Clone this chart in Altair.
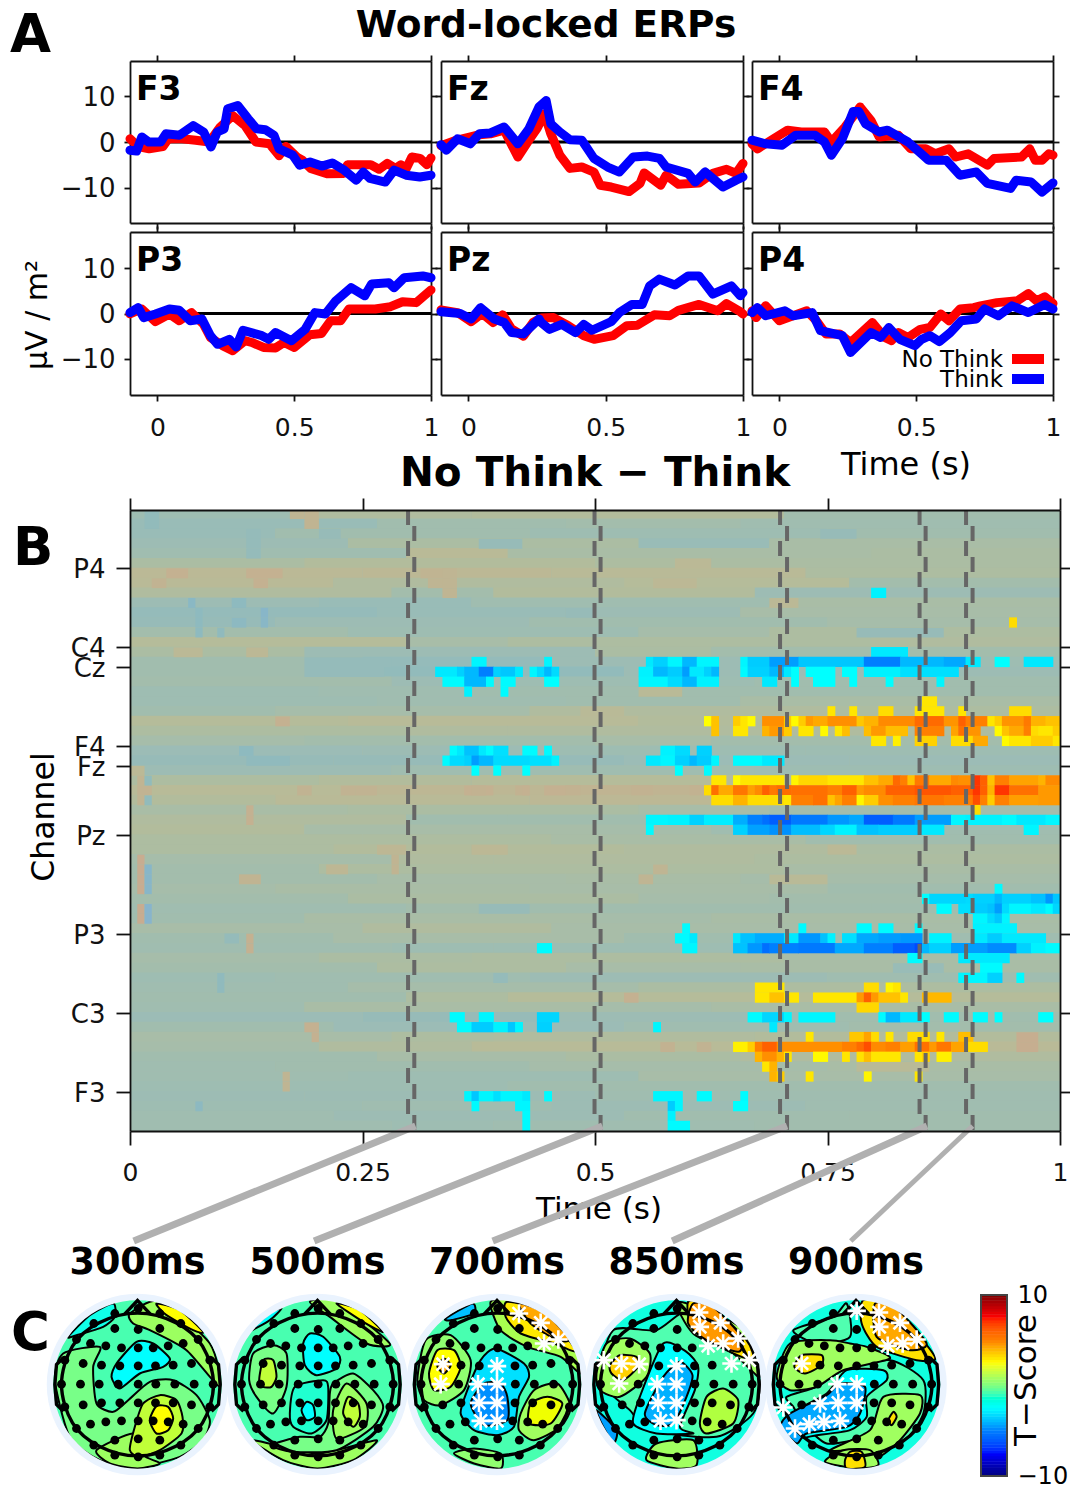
import altair as alt
import pandas as pd
import numpy as np

W, H = 1062, 1478
FONT = "DejaVu Sans"
INK = "#111111"

# ---------- ERP traces (time s, µV/m²) ----------
ERP = {
 "F3": {
  "red": [(-.1,.7),(-.07,-1),(-.03,-1.5),(.02,-1),(.04,.7),(.09,.7),(.14,.4),(.19,0),(.23,3.3),(.275,5.8),(.32,3.6),(.36,0),(.41,-.4),(.445,-3),(.47,-1),(.51,-3.3),(.53,-4),(.56,-5.8),(.62,-7),(.68,-6.9),(.695,-5),(.78,-5),(.81,-6),(.84,-4.7),(.87,-5.8),(.89,-5),(.91,-5.8),(.93,-3.3),(.96,-3.6),(.985,-5),(1,-3.5)],
  "blue": [(-.1,-1.8),(-.076,-2),(-.057,1.1),(-.032,0),(.012,0),(.031,1.8),(.081,1.5),(.131,3.6),(.169,2.2),(.196,-1.1),(.219,2.2),(.244,2.9),(.257,7.3),(.294,8),(.332,5.1),(.363,2.9),(.395,2.7),(.426,1.5),(.445,-1.5),(.495,-2.9),(.52,-5.1),(.558,-4.4),(.601,-5.3),(.639,-4.6),(.683,-6.2),(.727,-8.4),(.752,-6.6),(.777,-8),(.833,-8.8),(.865,-6.2),(.909,-7.3),(.959,-7.7),(1,-7.3)],
 },
 "Fz": {
  "red": [(-.1,-.8),(-.05,.3),(0,1),(.04,1.6),(.08,1.8),(.13,2.6),(.18,-3.3),(.22,.4),(.25,3),(.277,6.2),(.30,1.8),(.333,-2.9),(.37,-5.8),(.413,-5.5),(.457,-6.6),(.48,-9.5),(.52,-9.9),(.585,-10.9),(.625,-9.1),(.64,-6.8),(.70,-9.5),(.72,-7.3),(.765,-9.3),(.84,-9),(.89,-6.9),(.94,-6),(.975,-6.9),(1,-4.7)],
  "blue": [(-.1,-.6),(-.08,-1.8),(-.04,.7),(.007,-.4),(.04,1.8),(.08,2),(.13,3.3),(.18,-.4),(.22,2.9),(.257,7.7),(.283,9.1),(.30,4),(.333,2.2),(.37,.5),(.413,.4),(.457,-3.6),(.507,-5.5),(.55,-6.6),(.60,-3.3),(.652,-3.1),(.696,-3.6),(.72,-5.5),(.80,-6.9),(.826,-8.8),(.862,-6.6),(.927,-9.9),(.975,-8.4),(1,-7.7)],
 },
 "F4": {
  "red": [(-.1,-.4),(-.08,-1.5),(-.03,.4),(.03,2.6),(.08,2.2),(.165,2.2),(.19,0),(.24,3.3),(.295,7.7),(.335,4.7),(.365,1.1),(.435,1.5),(.48,-1.5),(.535,-1.5),(.57,-2.6),(.62,-1.5),(.645,-3.3),(.69,-2.6),(.76,-5.1),(.785,-3.6),(.885,-3.3),(.915,-1.5),(.935,-4),(.96,-4),(.985,-2.6),(1,-2.9)],
  "blue": [(-.1,.4),(-.05,-.4),(.01,-.7),(.06,1.5),(.13,1.5),(.165,0),(.19,-2.9),(.23,.7),(.27,6.7),(.29,6.7),(.315,4),(.365,2.2),(.395,2.6),(.47,0),(.545,-4),(.61,-4),(.66,-7.3),(.72,-6.6),(.76,-9.1),(.845,-10.2),(.865,-8.4),(.92,-8.8),(.96,-11),(1,-9)],
 },
 "P3": {
  "red": [(-.1,-.1),(-.057,1),(-.007,-1.8),(.044,-.1),(.08,-1.6),(.125,.2),(.169,-2.4),(.194,-5.3),(.238,-7.1),(.275,-8.2),(.32,-6),(.345,-6.4),(.388,-7.5),(.432,-7.6),(.463,-6.4),(.5,-7.5),(.557,-4.7),(.6,-4.4),(.633,-1.6),(.67,-1.6),(.70,1),(.796,1),(.852,1.5),(.896,2.6),(.946,2.4),(1,5.2)],
  "blue": [(-.1,.2),(-.07,1.3),(-.05,-.9),(-.007,-.1),(.044,1),(.08,.7),(.12,-1.6),(.163,-1.2),(.194,-4.9),(.22,-6.8),(.263,-5.7),(.288,-7.4),(.313,-3.7),(.382,-4.9),(.407,-5.7),(.432,-4.2),(.49,-6),(.54,-3.5),(.576,.2),(.614,-.1),(.652,2.8),(.708,5.7),(.758,3.9),(.783,6.5),(.846,6.8),(.865,5.7),(.902,7.9),(.97,8.3),(1,7.9)],
 },
 "Pz": {
  "red": [(-.1,.8),(-.04,.2),(.01,-1.8),(.05,0),(.09,-2),(.125,-.3),(.157,-3.4),(.2,-5),(.235,-2),(.265,-1),(.31,-.9),(.364,-2.7),(.42,-4.9),(.458,-5.7),(.527,-4.9),(.577,-2.7),(.615,-2.6),(.677,-.3),(.733,-.5),(.765,.7),(.84,2),(.908,.6),(.94,2.2),(.99,.4),(1,-.1)],
  "blue": [(-.1,.4),(-.03,0),(.01,-1.2),(.044,1.3),(.094,-1.2),(.13,-2),(.157,-4.2),(.2,-4.5),(.257,-1.2),(.265,-2),(.295,-3.5),(.34,-2.4),(.39,-4.2),(.42,-2.4),(.45,-3.7),(.52,-1.8),(.55,.2),(.595,2),(.633,2),(.66,6.1),(.695,7.6),(.752,6.3),(.80,8.3),(.84,8.3),(.89,4.3),(.958,6.1),(.99,3.9),(1,4.6)],
 },
 "P4": {
  "red": [(-.1,.6),(-.085,-.9),(-.05,1.7),(0,-1.6),(.1,.6),(.135,-1.6),(.17,-4.5),(.22,-4.5),(.26,-6.4),(.295,-4.5),(.34,-2),(.385,-5.3),(.41,-6),(.435,-4.2),(.47,-5.3),(.515,-3.5),(.55,-3.1),(.59,-.1),(.62,-1.6),(.66,1),(.71,1.3),(.735,1.7),(.795,2.4),(.87,2.8),(.91,4.4),(.94,2.8),(.97,3.7),(1,2.2)],
  "blue": [(-.1,.2),(-.08,1.3),(-.05,-.5),(.02,.6),(.05,-.5),(.12,.2),(.15,-3.8),(.23,-4.9),(.26,-8.6),(.335,-4.2),(.37,-5.3),(.40,-3.1),(.44,-5.7),(.495,-7.1),(.52,-5.7),(.55,-4.9),(.585,-6.2),(.625,-4.2),(.665,-1.6),(.72,-1.2),(.75,1),(.80,-.5),(.85,1.7),(.91,.2),(.97,2),(1,1)],
 },
}
PANELS = [
 ("F3",130,431,61,223,True,False),("Fz",441,743,61,223,False,False),("F4",752,1053,61,223,False,False),
 ("P3",130,431,232,395,True,True),("Pz",441,743,232,395,False,True),("P4",752,1053,232,395,False,True),
]

# ---------- heat map ----------
ROW_H = 9.87
N_TOP = (1131-510)/ROW_H
CHANNEL_ROWS = {"P4":57,"C4":49,"Cz":47,"F4":39,"Fz":37,"Pz":30,"P3":20,"C3":12,"F3":4}
BG = [[-.5,.4,.5,-.3],[-.8,-.3,-.2,-.4],[-.8,-.3,-.5,-.3],[-.6,.2,-.8,.1],[-.4,.8,.1,.2],[.2,.5,.3,.2],[.9,1.0,.8,.3],[.8,.4,.6,-.2],
[.4,-.2,.5,-.6],[-.6,-.8,-.4,.1],[-1,-.8,-.6,0],[-.9,-.6,-.3,-.1],[-.2,-.5,-.1,.3],[.6,0,.3,.4],[.2,-.6,.2,-.2],[-.3,-1,-.6,-.5],
[-.3,-1.1,-.6,-.6],[-.2,-.6,-.5,-.3],[-.5,-.4,-.3,-.3],[-.5,-.4,-.3,.1],[-.3,-.1,.4,.3],[.6,.7,.5,.5],[.3,.4,.4,.3],[-.1,-.2,0,-.2],
[-.7,-.6,-.5,-.5],[-.9,-.9,-.7,-.7],[-.6,-.4,-.4,-.5],[.3,.5,.6,.5],[.7,1.1,1.3,1.2],[.5,.8,1.0,1],[.1,.2,0,-.2],[.4,-.3,-.3,-.2],
[.5,0,-.1,-.4],[.3,.3,.1,-.3],[.3,.5,.4,.2],[-.1,.4,.4,.3],[-.2,.3,.3,.1],[-.2,0,.1,-.1],[-.1,.1,0,-.3],[-.2,.2,-.1,-.2],
[-.4,-.2,-.3,-.3],[-.3,.1,-.1,.1],[0,.4,0,0],[-.3,0,-.3,-.4],[-.4,-.5,-.5,-.2],[-.1,.2,.3,.1],[-.2,.3,0,.1],[-.5,-.4,-.6,-.4],
[-.4,-.1,.2,.3],[-.3,.3,.6,.6],[-.4,.1,-.1,.1],[-.7,-.9,-.6,-.3],[-.3,-.7,-.4,-.2],[0,.3,.4,.5],[-.1,.4,.7,.8],[-.3,0,.2,.4],
[-.4,-.3,-.1,.1],[-.4,-.5,0,0],[-.5,-.5,-.3,-.3],[-.6,-.6,-.4,-.4],[-.5,-.4,-.6,-.4],[-.4,-.6,-.3,-.3],[-.4,-.5,-.4,-.3]]
SEG_EDGES = [(26,47,90),(34,60,84),(20,55,96),(30,70,88),(38,52,102),(24,64,80),(32,58,93),(28,68,99),(36,50,86)]
BG_PATCHES = [(56,5,8,1.6),(56,16,21,1.6),(55,3,5,1.4),(55,17,19,1.6),(34,1,3,1.4),(34,69,72,1.5),(34,77,80,1.5),(34,53,55,1.5),(34,60,62,1.5),
 (34,46,50,1.6),(34,29,31,1.4),(56,40,44,1.3),(55,41,44,1.2),(21,1,2,2),(22,1,2,2),(21,2,3,-2),(22,2,3,-2),(25,15,18,1.3),(62,22,24,1.2),
 (53,8,9,-1.6),(53,14,16,-1.3),(52,18,19,-1.8),(47,24,36,-1),(38,15,17,-1.3),(37,16,22,-1.2),(8,73,75,1.5),(8,78,80,1.4),(8,122,125,1.8),(9,122,125,1.8),
 (10,24,26,1.6),(13,68,70,1.6),(19,13,15,-1),(36,0,2,.9),(25,70,72,1.2),(26,72,74,1.2),(28,34,38,1.1),
 (61,24,26,1.3),(62,24,26,1.3),(61,2,4,-1.1),(62,2,4,-1.1),(58,16,18,-1),(59,16,18,-1),(60,16,18,-1),(60,26,29,-.9),
 (50,9,10,-1.3),(51,9,10,-1.3),(52,9,10,-1.3),(51,14,16,-1.4),(51,18,19,-1.7),(50,12,13,-1.2),(48,6,10,.9),(48,16,19,1),(41,20,22,1.6),
 (54,43,45,1.2),(55,43,45,1.2),(56,43,45,1.2),(46,24,35,-1),(34,23,25,1.4),(34,31,34,1.4),(34,47,49,1.5),(34,54,55,1.6),(34,57,60,1.6),
 (33,1,2,1.3),(35,1,2,1.3),(33,2,3,-1.1),(35,2,3,-1.1),(59,48,54,-.9),(24,1,2,2),(25,1,2,2),(26,1,2,2),(27,1,2,2),
 (24,2,3,-1.8),(25,2,3,-1.8),(26,2,3,-1.8),(31,16,17,1.6),(32,16,17,1.6),(18,16,17,1.6),(19,16,17,1.6),(26,36,37,1.3),(27,36,37,1.3),(26,27,30,1.1),
 (28,47,52,1),(9,25,26,1.6),(14,12,13,-1.2),(15,12,13,-1.2),(15,50,52,-1),(22,48,55,-.9),(4,21,22,1.2),(5,21,22,1.2),(2,9,10,-1.4),
 (44,70,76,.8),(52,60,64,-.9),(53,88,92,.9),(57,75,80,.9),(55,72,78,1),(60,95,100,-.9),(50,100,112,-.9),(28,96,100,.9),(6,100,110,.8),(25,88,96,.8),(42,62,68,.8),(16,105,112,-.8)]
SIG_RUNS = {
54:[(102,104,-2.8)],51:[(121,122,3.2)],
48:[(102,107,-3)],
47:[(47,49,-2.7),(57,58,-2.7),(71,72,-3),(72,74,-3.5),(74,76,-2.7),(76,78,-4),(78,81,-2.7),(84,85,-2.7),(85,88,-3.6),(88,92,-4.5),(92,101,-3.7),(101,106,-5),(106,112,-4),(112,115,-4.3),(115,117,-3),(119,121,-2.5),(123,127,-3)],
46:[(42,45,-3),(45,46,-3.5),(46,48,-4),(48,50,-5),(50,51,-3.5),(51,53,-3.7),(53,54,-3),(55,56,-2.7),(56,57,-3.3),(57,58,-4),(58,59,-3.3),(70,72,-2.8),(72,74,-4),(74,76,-3.6),(76,77,-4.5),(77,79,-3),(79,80,-3.5),(80,81,-4),(84,85,-2.6),(85,88,-3.5),(88,90,-4),(90,91,-3),(91,92,-2.5),(93,97,-2.5),(98,100,-2.5),(101,106,-2.8),(106,114,-3.2)],
45:[(43,46,-2.6),(46,49,-4),(49,50,-2.6),(51,53,-2.6),(57,59,-2.5),(70,74,-2.7),(74,76,-3.3),(76,78,-4),(78,81,-2.8),(87,89,-3),(91,92,-2.5),(94,97,-2.5),(99,100,-2.5),(104,105,-2.5),(111,112,-2.7)],
44:[(46,47,-2.8),(51,52,-2.6)],
43:[(109,111,3)],
42:[(96,97,3),(99,100,3),(103,105,3.2),(108,112,3),(114,115,3),(121,124,3.2)],
41:[(79,80,2.5),(80,81,3.7),(83,84,3.5),(84,85,3),(85,86,2.6),(87,90,4.7),(90,91,3.5),(91,92,2.6),(92,93,3.5),(93,94,4.5),(94,96,4.2),(96,100,4.7),(100,101,3.6),(101,103,4),(103,108,4.8),(108,112,5.7),(112,114,4.6),(114,115,6),(115,118,5),(118,119,3),(119,120,3.5),(120,123,4.6),(123,124,5.2),(124,126,4),(126,128,3.7)],
40:[(80,81,3.7),(83,85,3),(87,88,4),(88,90,4.5),(90,91,3.5),(92,94,3),(95,96,2.6),(97,98,3),(98,99,3.8),(101,102,3.8),(102,104,4.5),(104,107,3.8),(108,112,5),(113,114,4.3),(114,115,5.5),(115,117,4.6),(119,120,2.6),(120,121,3.7),(121,123,4.2),(123,124,5),(124,125,3.2),(125,127,3),(127,128,3.5)],
39:[(102,104,3),(105,106,2.8),(108,111,3.4),(113,116,3.2),(116,118,4.2),(120,121,2.6),(121,124,3),(124,127,3.5),(127,128,3)],
38:[(44,45,-2.6),(45,46,-3),(46,48,-3.8),(48,49,-3),(49,50,-2.6),(50,52,-3.2),(54,56,-2.6),(57,58,-2.6),(73,75,-2.8),(75,77,-3.3),(78,80,-3.5)],
37:[(43,44,-2.6),(44,46,-3.3),(46,47,-3.5),(47,48,-4.5),(48,50,-4),(50,55,-3.3),(55,58,-3.2),(58,59,-2.8),(71,73,-3),(73,75,-2.7),(75,77,-3.5),(77,78,-4),(78,80,-3.6),(80,81,-2.7),(83,87,-2.6),(87,90,-3)],
36:[(47,48,-2.5),(50,51,-2.5),(54,55,-2.5),(75,76,-2.5),(79,80,-2.6)],
35:[(80,82,3),(83,84,2.6),(84,90,3),(91,92,2.7),(92,96,3.3),(96,101,3),(101,103,3.7),(103,105,4.2),(105,106,5.7),(106,107,5),(107,108,3.7),(108,110,5.2),(110,113,4.2),(113,114,4.8),(114,116,4.7),(116,117,7),(117,118,6),(118,119,3.7),(119,121,5),(121,125,4.3),(125,126,4),(126,128,4.8)],
34:[(79,80,3.2),(80,81,5.5),(81,83,4.2),(83,85,5.3),(85,86,4.4),(86,87,4.8),(87,88,6),(88,89,5.2),(89,91,5.6),(91,96,5.5),(96,98,5),(98,100,6),(100,101,4.5),(101,104,4.8),(104,108,6),(108,113,6.3),(113,116,6),(116,117,7),(117,118,6),(118,119,4),(119,121,7),(121,125,5.5),(125,128,4.5)],
33:[(80,83,3.2),(83,85,4),(85,90,3.2),(90,91,3),(91,94,5),(94,96,5.5),(96,97,3.7),(97,98,4.3),(98,100,5),(100,101,2.7),(101,103,3.5),(103,105,4.7),(105,108,5),(108,112,5.3),(112,116,5),(116,117,6.5),(117,118,5),(118,119,3.5),(119,121,5),(121,125,4.4),(125,128,4.5)],
32:[(116,117,3.2)],
31:[(71,74,-2.7),(74,77,-2.8),(77,79,-3.5),(79,83,-2.9),(83,85,-4.2),(85,87,-5),(87,88,-5.5),(88,91,-6),(91,96,-5.2),(96,99,-4.6),(99,101,-4.3),(101,105,-6),(105,108,-5.2),(108,113,-4.5),(113,115,-2.7),(115,120,-2.8),(120,122,-2.6),(122,126,-3),(126,128,-2.7)],
30:[(71,72,-2.6),(83,85,-3.5),(85,88,-4.4),(88,91,-4.7),(91,95,-3.9),(95,97,-3.4),(97,100,-2.8),(100,103,-3.8),(103,109,-3.6),(109,112,-3),(123,125,-2.7)],
24:[(119,120,-2.6)],
23:[(109,110,-2.5),(110,115,-3.4),(115,116,-3.3),(116,119,-3.5),(119,120,-4),(120,124,-3.5),(124,126,-3.8),(126,127,-4.6),(127,128,-3.7)],
22:[(111,113,-2.6),(114,116,-3.2),(116,118,-3.6),(118,119,-3.8),(119,120,-4.5),(120,121,-3.3),(121,124,-2.7),(124,126,-3),(126,127,-2.6),(127,128,-3.4)],
21:[(116,118,-2.7),(118,119,-3.3),(119,120,-3.7),(120,121,-2.7)],
20:[(76,77,-2.6),(92,93,-2.6),(100,102,-2.6),(103,105,-2.6),(108,109,-2.6),(116,122,-2.8)],
19:[(75,77,-2.6),(77,78,-3),(83,84,-3),(84,86,-3.8),(86,90,-4.2),(90,92,-3),(92,95,-4.6),(95,96,-3.8),(96,97,-2.8),(98,100,-3.2),(100,103,-4.3),(103,106,-4.5),(106,109,-4.6),(110,113,-2.8),(116,118,-3),(118,120,-3.6),(120,126,-3)],
18:[(56,58,-2.6),(76,78,-2.7),(83,85,-3.8),(85,87,-4.6),(87,88,-5.5),(88,92,-5),(92,97,-5.2),(97,101,-4.3),(101,105,-5),(105,108,-6),(108,109,-6.5),(109,110,-4),(110,113,-3.5),(113,118,-4.5),(118,122,-4.8),(122,124,-3.5),(124,126,-2.8),(126,128,-2.6)],
17:[(107,109,-2.6),(114,121,-3)],
16:[(117,120,-2.6)],
15:[(114,118,-2.7),(118,120,-3.5),(122,123,-2.6)],
14:[(86,90,3),(101,103,3.2),(104,105,2.7),(105,106,3)],
13:[(86,88,3),(88,90,3.7),(90,92,3),(94,100,3),(100,101,4.5),(101,102,6),(102,103,4.5),(103,106,3.7),(106,107,3),(109,113,3.9)],
12:[(100,103,3.3)],
11:[(44,46,-2.6),(48,50,-2.7),(56,59,-3.4),(85,87,-2.6),(87,90,-3.4),(90,91,-2.7),(92,97,-2.7),(103,104,-2.6),(104,106,-4),(106,109,-3),(109,110,-2.5),(112,114,-2.6),(116,118,-2.6),(119,120,-2.5),(125,127,-2.5)],
10:[(45,47,-2.6),(47,50,-3.6),(50,52,-2.8),(52,53,-3.7),(53,54,-2.7),(56,58,-3.5),(72,73,-2.7),(88,89,-3)],
9:[(93,94,3),(99,101,3.6),(101,102,4.3),(102,103,3.2),(104,105,3),(107,110,3.2),(111,112,3),(114,116,3.8)],
8:[(83,85,2.8),(85,86,3.5),(86,87,5),(87,89,6),(89,98,4.7),(98,100,5),(100,101,5.7),(101,102,6.5),(102,104,4.8),(104,106,5),(106,108,4.4),(108,110,5.5),(110,111,4.5),(111,113,5.3),(113,115,4.3),(115,118,3.2)],
7:[(86,87,4),(87,89,4.7),(89,90,4),(90,91,3),(94,96,2.6),(98,99,3),(100,101,3.1),(101,102,3.8),(102,106,3),(108,109,3),(109,110,3.4),(111,113,2.8)],
6:[(87,88,3),(88,89,4)],
5:[(88,89,4),(89,90,3.5),(93,94,3),(101,102,2.7),(108,109,3)],
3:[(46,47,-2.7),(47,48,-3.7),(48,50,-2.7),(50,51,-3.2),(51,54,-2.7),(54,55,-3),(57,58,-2.6),(72,76,-2.7),(78,80,-2.6),(84,85,-2.6)],
2:[(47,48,-2.6),(53,55,-2.7),(74,75,-3.6),(75,76,-2.7),(83,85,-2.5)],
1:[(54,55,-2.6),(74,75,-2.8)],
0:[(54,55,-2.6),(74,77,-2.6)],
}
MARKER_TIMES = [(.299,.3057),(.4995,.506),(.699,.7065),(.849,.8555),(.899,.906)]
CONN_TOP = [.307,.508,.7065,.857,.906]
CONN_BOTTOM = [.004,.198,.39,.583,.775]
CONN_WIDTH = [7,7,7,7,5]
MAP_LABELS = ["300ms","500ms","700ms","850ms","900ms"]
MAP_CENTERS = [137.5,317.5,497,676.5,856]

JET_T = [-10,-7.5,-5,-2.5,0,2.5,5,7.5,10]
JET_C = ["#00007f","#0000ff","#007fff","#00ffff","#7fff7f","#ffff00","#ff7f00","#ff0000","#7f0000"]
JET = alt.Scale(domain=JET_T, range=JET_C)

# ---------- topographies ----------
ELECTRODES = [(-131,183),(-68,213),(2,228),(67,213),(130,183),(-68,168),(2,165),(67,168),
(-183,135),(-141,123),(-95,116),(-48,110),(2,110),(47,110),(92,116),(137,123),(182,135),
(-218,73),(-163,63),(-108,58),(-53,56),(2,56),(54,56),(107,58),(162,63),(217,73),
(-228,1),(-171,1),(-115,1),(-58,1),(2,1),(55,1),(112,1),(170,1),(227,1),
(-218,-67),(-163,-61),(-108,-55),(-53,-55),(2,-55),(54,-55),(107,-55),(162,-61),(217,-67),
(-183,-132),(-141,-119),(-95,-112),(-48,-109),(2,-109),(47,-109),(92,-112),(137,-119),(182,-132),
(-68,-167),(2,-163),(67,-167),(-131,-182),(-68,-212),(2,-217),(67,-212),(130,-182)]
HEAD = [(0,214),(115,185),(195,115),(228,0),(195,-115),(115,-185),(0,-214),(-115,-185),(-195,-115),(-228,0),(-195,115),(-115,185)]
NOSE = [(-38,212),(0,252),(38,212)]
EAR_L = [(-222,80),(-243,60),(-248,0),(-243,-60),(-222,-80)]
EAR_R = [(222,80),(243,60),(248,0),(243,-60),(222,-80)]

MINT,CY,GRN,LGR,YG,YEL,ORG,BLU = "#48ffb0","#00ffff","#78ff88","#9cff60","#c0ff38","#ffff00","#ffa800","#00a0ff"
MAPS = [
 dict(c=(413,313),base=MINT,regions=[
  ("#10ffe8",[(205,170),(270,105),(340,70),(345,110),(310,140),(230,165)]),
  (GRN,[(165,300),(190,220),(300,200),(280,260),(290,370),(340,395),(385,360),(450,305),(520,300),(590,345),(630,420),(610,480),(540,530),(413,560),(300,540),(210,470)]),
  (LGR,[(390,100),(480,60),(630,190),(660,320),(560,210),(450,150),(400,130)]),
  (YEL,[(470,70),(540,90),(610,155),(580,150),(500,105)]),
  (LGR,[(290,510),(400,460),(430,525),(480,550),(413,565),(330,550)]),
  (YG,[(390,510),(405,440),(430,370),(480,345),(530,360),(548,410),(545,460),(480,510),(420,530)]),
  (YEL,[(450,420),(470,378),(505,380),(520,415),(505,450),(470,460)]),
  (CY,[(335,290),(350,250),(410,185),(460,190),(510,235),(490,260),(420,280),(360,325)]),
 ],stars=[]),
 dict(c=(953,313),base=MINT,regions=[
  (CY,[(750,150),(810,95),(845,85),(810,120)]),
  (LGR,[(930,65),(1010,60),(1170,190),(1100,190),(990,110)]),
  (YEL,[(1010,70),(1080,90),(1150,155),(1090,125)]),
  (LGR,[(760,480),(953,520),(1130,480),(1060,540),(953,565),(850,540)]),
  (GRN,[(985,430),(990,340),(1000,310),(1060,280),(1120,330),(1150,380),(1120,440),(1010,510),(880,515),(815,495),(900,470),(960,470)]),
  (LGR,[(1000,390),(1040,310),(1100,370),(1095,440),(1010,475)]),
  (YG,[(1030,400),(1045,350),(1075,370),(1080,410),(1060,440)]),
  (GRN,[(748,300),(760,220),(820,195),(860,220),(860,320),(820,400),(770,350)]),
  (YG,[(778,300),(790,240),(820,240),(830,290),(815,320),(790,320)]),
  (CY,[(910,190),(930,160),(970,170),(1020,230),(1010,265),(950,285),(915,255)]),
  ("#20ffd0",[(870,400),(885,320),(970,300),(985,320),(980,420),(935,460),(880,440)]),
  (CY,[(905,390),(920,365),(940,375),(945,410),(920,420)]),
 ],stars=[]),
 dict(c=(289,313),base=MINT,regions=[
  ("#00c0ff",[(135,115),(215,70),(220,100),(150,120)]),
  ("#a8ff50",[(270,65),(350,60),(530,190),(540,280),(480,230),(380,200),(300,150)]),
  ("#ffe800",[(320,65),(440,85),(530,210),(460,190),(360,160),(315,110)]),
  (ORG,[(355,70),(440,85),(510,175),(470,180),(390,130)]),
  ("#90ff70",[(50,300),(75,180),(150,165),(210,240),(190,330),(120,375),(70,360)]),
  (YEL,[(85,280),(110,210),(160,210),(180,260),(150,320),(100,330)]),
  (ORG,[(110,258),(130,235),(150,255),(130,280)]),
  ("#00e0ff",[(180,400),(200,330),(240,240),(285,205),(370,250),(385,290),(355,350),(340,440),(290,465),(220,450)]),
  ("#0090ff",[(210,370),(250,310),(300,310),(320,350),(320,420),(250,435)]),
  ("#a0ff60",[(355,450),(360,400),(400,330),(470,310),(510,380),(480,440),(400,480)]),
  ("#f0ff00",[(385,430),(390,370),(440,350),(485,370),(450,430)]),
  ("#90ff70",[(160,520),(220,505),(300,520),(300,565),(220,550)]),
 ],stars=[(355,100),(420,128),(430,190),(473,178),(127,252),(120,312),(289,258),(232,312),(289,312),(235,368),(289,368),(240,422),(289,422)]),
 dict(c=(830,313),base="#10ffe0",regions=[
  ("#50ffb0",[(600,300),(640,150),(770,150),(870,90),(1000,190),(1080,300),(1060,400),(950,470),(750,450),(690,390)]),
  (BLU,[(590,390),(650,450),(640,490),(610,440)]),
  ("#a0ff60",[(835,65),(1040,130),(1080,290),(1000,220),(880,160)]),
  ("#ffe000",[(865,65),(930,75),(1040,180),(1060,240),(980,210),(880,150)]),
  ("#ff9800",[(880,70),(940,75),(1025,170),(1015,215),(920,180),(865,130)]),
  ("#a0ff60",[(590,280),(620,190),(690,175),(750,220),(740,290),(660,350),(600,330)]),
  ("#ffd000",[(630,255),(660,225),(710,230),(715,260),(670,300),(635,280)]),
  (CY,[(700,430),(720,350),(790,190),(860,215),(895,260),(885,330),(840,440),(880,460),(770,460)]),
  ("#00b0ff",[(735,400),(790,290),(840,245),(878,285),(860,350),(820,430),(770,435)]),
  ("#b0ff40",[(900,430),(920,350),(970,325),(1015,360),(1000,430),(920,460)]),
  ("#a0ff60",[(740,540),(770,490),(880,480),(890,555),(830,565)]),
 ],stars=[(898,97),(962,128),(900,140),(970,190),(1015,175),(925,197),(995,250),(1048,240),(612,240),(665,250),(718,252),(658,310),(830,258),(772,312),(830,312),(775,368),(830,368),(782,422),(830,420)]),
 dict(c=(318,313),base="#10ffe0",regions=[
  ("#50ffb0",[(110,350),(200,320),(280,270),(420,240),(520,300),(520,400),(460,480),(320,480),(230,490),(160,430),(130,380)]),
  ("#50ffb0",[(130,150),(250,110),(290,70),(300,170),(200,190)]),
  ("#a0ff60",[(80,290),(120,190),(240,180),(300,190),(350,200),(420,235),(280,270),(200,320),(120,330)]),
  ("#ffe000",[(133,260),(155,225),(215,225),(215,255),(165,280)]),
  (CY,[(130,400),(230,340),(290,270),(400,270),(410,300),(350,350),(350,410),(300,450),(200,465),(150,470)]),
  ("#00a8ff",[(120,400),(230,345),(270,310),(345,320),(330,400),(290,440),(170,460),(140,490),(90,440)]),
  ("#a0ff60",[(240,510),(360,450),(400,350),(510,345),(510,400),(450,480),(385,530),(320,510)]),
  ("#ffe000",[(415,420),(430,395),(440,410),(425,435)]),
  ("#a0ff60",[(225,545),(280,510),(360,510),(385,555),(320,565)]),
  ("#ffe000",[(285,540),(300,515),(335,515),(345,560),(290,565)]),
  ("#ffe000",[(340,60),(430,80),(555,230),(500,240),(380,200),(335,130)]),
  (ORG,[(375,70),(440,85),(530,190),(480,210),(380,170)]),
 ],stars=[(320,92),(387,97),(450,128),(388,140),(413,197),(458,190),(500,178),(155,250),(262,312),(320,312),(210,370),(265,368),(320,368),(100,382),(135,445),(178,432),(222,425),(270,422)]),
]

# ---------- helpers ----------
def px(x): return x-8
def py(y): return y-8
def off_bottom(y): return py(y)-H
def off_top(y): return -py(y)
def off_left(x): return -px(x)
def off_right(x): return px(x)-W

ONE = pd.DataFrame({"k":[0]})
FRAME_DF = pd.DataFrame({"t":[0.0],"v":[0.0]})
def text(s, x, y, size, bold=False, align="center", baseline="middle", angle=0):
    kw = dict(font=FONT, fontSize=size, align=align, baseline=baseline, color="#000000")
    if bold: kw["fontWeight"]="bold"
    if angle: kw["angle"]=angle
    nudge = 0 if angle else 2
    return alt.Chart(pd.DataFrame({"s":[s]})).mark_text(**kw).encode(
        x=alt.value(px(x)), y=alt.value(py(y)+nudge), text="s:N")

AX = dict(domainColor=INK, domainWidth=1.8, tickColor=INK, tickWidth=1.8, grid=False, title=None,
          labelFont=FONT, labelColor="#111111")

def frame(xs,ys,xa,ya):
    return alt.Chart(FRAME_DF).mark_point(opacity=0).encode(
        x=alt.X("t:Q",scale=xs,axis=xa),y=alt.Y("v:Q",scale=ys,axis=ya))

def erp_panel(name,l,r,t,b,show_left,show_bottom):
    dom_y = [-18,18] if t>100 else [-17.8,17.8]
    xs = alt.Scale(domain=[-.1,1],range=[px(l),px(r)],nice=False,zero=False)
    ys = alt.Scale(domain=dom_y,range=[py(b),py(t)],nice=False,zero=False)
    xa = alt.Axis(orient="bottom",offset=off_bottom(b),values=[0,.5,1],tickSize=6,labels=show_bottom,
                  labelFontSize=25,labelPadding=14,format=".3~g",labelFlush=False,labelOverlap=False,**AX)
    ya = alt.Axis(orient="left",offset=off_left(l),values=[-10,0,10],tickSize=6,labels=show_left,
                  labelFontSize=26,labelPadding=9,labelOffset=1,labelOverlap=False,labelFlush=False,**AX)
    fx = alt.Axis(orient="top",offset=off_top(t),values=[0,.5,1],tickSize=6,labels=False,**AX)
    fy = alt.Axis(orient="right",offset=off_right(r),values=[-10,0,10],tickSize=6,labels=False,**AX)
    X0 = alt.X("t:Q",scale=xs,axis=None); Y0 = alt.Y("v:Q",scale=ys,axis=None)
    zero = alt.Chart(pd.DataFrame({"t":[-.1],"t2":[1],"v":[0]})).mark_rule(color="#000000",strokeWidth=3).encode(x=X0,x2="t2:Q",y=Y0)
    layers=[zero]
    for col,key in (("#ff0000","red"),("#0000ff","blue")):
        df=pd.DataFrame(ERP[name][key],columns=["t","v"])
        layers.append(alt.Chart(df).mark_line(color=col,strokeWidth=9,strokeJoin="round",strokeCap="round").encode(x=X0,y=Y0))
    return [frame(xs,ys,xa,ya),frame(xs,ys,fx,fy),alt.layer(*layers),text(name,l+6,t+27,33,bold=True,align="left")]

# heat
hx = alt.Scale(domain=[0,1],range=[px(130),px(1060)],nice=False,zero=False)
hy = alt.Scale(domain=[0,N_TOP],range=[py(1131),py(510)],nice=False,zero=False)
label_expr = " : ".join(f"datum.value=={v} ? '{k}'" for k,v in CHANNEL_ROWS.items())+" : ''"
tick_rows = list(CHANNEL_ROWS.values())

bg_rows=[]
for i,row in enumerate(BG):
    rr=len(BG)-1-i
    e=(0,)+SEG_EDGES[i%len(SEG_EDGES)]+(128,)
    for s,val in enumerate(row):
        bg_rows.append(dict(t0=e[s]/128,t1=e[s+1]/128,r0=rr,r1=min(rr+1.06,N_TOP),val=val))
for rr,c0,c1,val in BG_PATCHES:
    bg_rows.append(dict(t0=c0/128,t1=c1/128,r0=rr,r1=min(rr+1,N_TOP),val=val))
bg_df=pd.DataFrame(bg_rows)
sig_df=pd.DataFrame([dict(t0=c0/128,t1=min((c1+.08)/128,1),r0=rr,r1=rr+1.04,val=val) for rr,runs in SIG_RUNS.items() for c0,c1,val in runs])

hxa=alt.Axis(orient="bottom",offset=off_bottom(1131),values=[0,.25,.5,.75,1],tickSize=14,labelFontSize=25,labelPadding=15,
             format=".3~g",labelFlush=False,labelOverlap=False,zindex=0,domain=False,**{k:v for k,v in AX.items() if k not in ("domainColor","domainWidth")})
hya=alt.Axis(orient="left",offset=off_left(130),values=tick_rows,tickSize=14,labelFontSize=26,labelPadding=11,labelOffset=1.5,
             labelExpr=label_expr,labelOverlap=False,labelFlush=False,zindex=1,**AX)
base_rect=alt.Chart(pd.DataFrame({"t0":[0.0],"t1":[1.0],"r0":[0.0],"r1":[N_TOP]})).mark_rect(color="#a8bda8").encode(
    x=alt.X("t0:Q",scale=hx,axis=None),x2="t1:Q",y=alt.Y("r0:Q",scale=hy,axis=None),y2="r1:Q")
bg_layer=alt.Chart(bg_df).mark_rect().encode(
    x=alt.X("t0:Q",scale=hx,axis=None),x2="t1:Q",
    y=alt.Y("r0:Q",scale=hy,axis=None),y2="r1:Q",
    color=alt.Color("val:Q",legend=None,scale=alt.Scale(domain=[-2,-.7,0,.7,2],range=["#88b4cc","#9cbcb6","#a8bda8","#b8bb98","#c8ac90"])))
sig_layer=alt.Chart(sig_df).mark_rect().encode(
    x=alt.X("t0:Q",scale=hx,axis=None),x2="t1:Q",
    y=alt.Y("r0:Q",scale=hy,axis=None),y2="r1:Q",
    color=alt.Color("val:Q",legend=None,scale=JET))
dash_layers=[]
for a,b in MARKER_TIMES:
    for t,o in ((a,0),(b,15)):
        dash_layers.append(alt.Chart(pd.DataFrame({"t":[t],"a":[N_TOP],"b":[0.0]})).mark_rule(
            color="#666666",strokeWidth=4,strokeDash=[15,16],strokeDashOffset=o).encode(
            x=alt.X("t:Q",scale=hx,axis=None),y=alt.Y("a:Q",scale=hy,axis=None),y2="b:Q"))
heat=alt.layer(base_rect,bg_layer,sig_layer,*dash_layers).resolve_scale(color="independent")
hfx=alt.Axis(orient="top",offset=off_top(510),values=[0,.25,.5,.75,1],tickSize=12,labels=False,zindex=1,**AX)
hfy=alt.Axis(orient="right",offset=off_right(1060),values=tick_rows,tickSize=14,labels=False,zindex=1,**AX)
hbx=alt.Axis(orient="bottom",offset=off_bottom(1131),values=[0],labels=False,ticks=False,zindex=1,**AX)
heat_frames=[frame(hx,hy,hxa,hya),frame(hx,hy,hfx,hfy),frame(hx,hy,hbx,None)]

# connectors
conn_df=pd.DataFrame({"top":CONN_TOP,"bot":CONN_BOTTOM,"y1":[1]*5,"y0":[0]*5,"w":CONN_WIDTH})
conn=alt.Chart(conn_df).mark_rule(color="#b0b0b0").encode(
    x=alt.X("top:Q",scale=hx,axis=None),x2="bot:Q",
    y=alt.Y("y1:Q",scale=alt.Scale(domain=[0,1],range=[py(1241),py(1126)]),axis=None),y2="y0:Q",
    strokeWidth=alt.StrokeWidth("w:Q",scale=None))

# topographies
def clamp(u,v,R=258):
    r=(u*u+v*v)**.5
    return (u,v) if r<=R else (u*R/r,v*R/r)

def topo(cx,spec):
    xs=alt.Scale(domain=[-270,270],range=[px(cx-90),px(cx+90)],nice=False,zero=False)
    ys=alt.Scale(domain=[-270,270],range=[py(1384.5+90),py(1384.5-90)],nice=False,zero=False)
    X=alt.X("u:Q",scale=xs,axis=None);Y=alt.Y("v:Q",scale=ys,axis=None)
    ctr=pd.DataFrame({"u":[0],"v":[0]})
    parts=[alt.Chart(ctr).mark_point(filled=True,fill=spec["base"],size=170**2,opacity=1).encode(x=X,y=Y)]
    c0,c1=spec["c"]
    for col,pts in spec["regions"]:
        rows=[clamp(a-c0,c1-b) for a,b in pts]
        df=pd.DataFrame(rows,columns=["u","v"]);df["i"]=range(len(df))
        parts.append(alt.Chart(df).mark_line(fill=col,stroke="#000000",strokeWidth=2,interpolate="cardinal-closed",tension=.3,fillOpacity=1).encode(
            x=X,y=Y,order="i:Q"))
    parts.append(alt.Chart(ctr).mark_point(filled=False,stroke="#eaf3fe",strokeWidth=6.5,size=175**2,opacity=1).encode(x=X,y=Y))
    for pts,closed in ((HEAD,True),(NOSE,False),(EAR_L,False),(EAR_R,False)):
        df=pd.DataFrame(pts,columns=["u","v"]);df["i"]=range(len(df))
        interp="cardinal-closed" if closed else "linear"
        parts.append(alt.Chart(df).mark_line(stroke="#000000",strokeWidth=3.4,interpolate=interp,tension=0).encode(x=X,y=Y,order="i:Q"))
    stars=[(a-c0,c1-b) for a,b in spec["stars"]]
    dots=[e for e in ELECTRODES if all((e[0]-s[0])**2+(e[1]-s[1])**2>30**2 for s in stars)]
    parts.append(alt.Chart(pd.DataFrame(dots,columns=["u","v"])).mark_point(filled=True,color="#000000",size=78,opacity=1).encode(x=X,y=Y))
    if stars:
        parts.append(alt.Chart(pd.DataFrame(stars,columns=["u","v"])).mark_point(
            shape="M-1,0L1,0M0,-1L0,1M-.7,-.7L.7,.7M-.7,.7L.7,-.7",filled=False,stroke="#ffffff",strokeWidth=2.6,size=340,opacity=1).encode(x=X,y=Y))
    return alt.layer(*parts)

# colour bar
edges=np.linspace(-10,10,65)
cb_df=pd.DataFrame({"a":edges[:-1],"b":edges[1:]+.05,"m":(edges[:-1]+edges[1:])/2})
cby=alt.Scale(domain=[-10,10],range=[py(1476),py(1295)],nice=False,zero=False)
cba=alt.Axis(orient="right",offset=off_right(1007),values=[-10,10],ticks=False,domain=False,labelFontSize=24,labelPadding=10,
             labelFlush=False,labelOverlap=False,grid=False,title=None,labelFont=FONT,labelColor="#000000")
cbar=alt.Chart(cb_df).mark_rect().encode(
    x=alt.value(px(981)),x2=alt.value(px(1007)),
    y=alt.Y("a:Q",scale=cby,axis=None),y2="b:Q",
    color=alt.Color("m:Q",scale=JET,legend=None))
cb_frame=alt.Chart(pd.DataFrame({"a":[-10.0],"b":[10.0]})).mark_rect(fillOpacity=0,stroke="#444444",strokeWidth=2).encode(
    x=alt.value(px(981)),x2=alt.value(px(1007)),
    y=alt.Y("a:Q",scale=cby,axis=None),y2="b:Q")
cb_axis=alt.Chart(pd.DataFrame({"a":[0.0]})).mark_point(opacity=0).encode(y=alt.Y("a:Q",scale=cby,axis=cba))

def key(y0,y1,col):
    return alt.Chart(ONE).mark_rect(color=col).encode(
        x=alt.value(px(1012)),x2=alt.value(px(1044)),y=alt.value(py(y0)),y2=alt.value(py(y1)))

layers=[]
for p in PANELS:
    layers+=erp_panel(*p)
layers+=[key(354,364,"#ff0000"),key(374,384,"#0000ff"),
    text("No Think",1003,358,23,align="right"),text("Think",1003,378,23,align="right"),
    text("Word-locked ERPs",546,24,37.5,bold=True),
    text("A",10,34,53,bold=True,align="left"),
    text("μV / m²",38,315,30,angle=270),
    text("Time (s)",906,463,32),
    text("No Think − Think",595,472,40.5,bold=True),
    text("B",13,547,53,bold=True,align="left"),
    text("Channel",45,817,31.5,angle=270),
    *heat_frames,heat,
    text("Time (s)",599,1208,31),
    conn]
for lab,cx,spec in zip(MAP_LABELS,MAP_CENTERS,MAPS):
    layers.append(text(lab,cx,1261,36.5,bold=True))
    layers.append(topo(cx,spec))
layers+=[text("C",11,1332,53,bold=True,align="left"),alt.layer(cbar,cb_frame),cb_axis,text("T−Score",1027,1380,31,angle=270)]

chart=alt.layer(*layers).resolve_scale(x="independent",y="independent",color="independent").resolve_axis(
    x="independent",y="independent").properties(
    width=W,height=H,padding=0,autosize=alt.AutoSizeParams(type="none"),background="white"
).configure_view(strokeWidth=0)

chart.save("out.html",embed_options={"renderer":"svg","actions":False})
